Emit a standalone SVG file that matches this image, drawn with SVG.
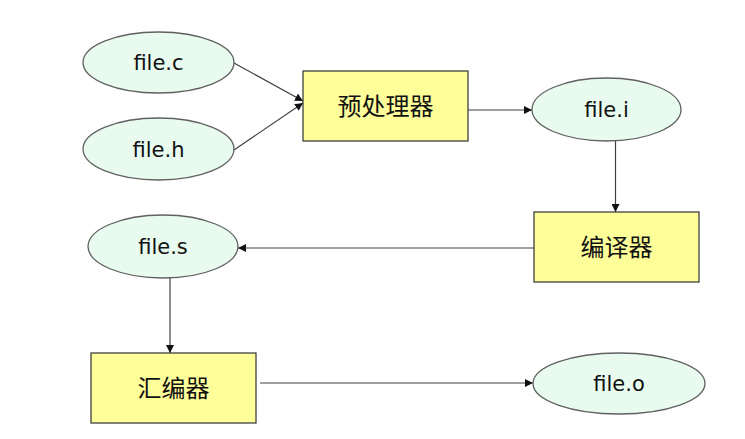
<svg xmlns="http://www.w3.org/2000/svg" width="745" height="439" viewBox="0 0 745 439">
<style>
.file{fill:#E8FBEE;stroke:#606060;stroke-width:1.3}
.proc{fill:#FFFF99;stroke:#404040;stroke-width:1.3}
.t{font-family:"DejaVu Sans","Noto Sans CJK SC",sans-serif;font-size:21px;fill:#111;text-anchor:middle}
.c{font-family:"Noto Sans CJK SC",sans-serif;font-size:24px;fill:#111;text-anchor:middle}
.edge{stroke:#404040;stroke-width:1.2;fill:none;marker-end:url(#ah)}
</style>
<defs>
<marker id="ah" viewBox="0 0 10 10" refX="10" refY="5" markerWidth="8" markerHeight="8" markerUnits="userSpaceOnUse" orient="auto">
<path d="M0,0 L10,5 L0,10 z" fill="#111"/>
</marker>
</defs>
<rect width="745" height="439" fill="#fff"/>
<g id="connectors">
<line class="edge" x1="234" y1="63" x2="303" y2="101"/>
<line class="edge" x1="234" y1="150" x2="303" y2="103"/>
<line class="edge" x1="468" y1="110" x2="532" y2="110"/>
<line class="edge" x1="615.5" y1="141" x2="615.5" y2="212"/>
<line class="edge" x1="534" y1="248" x2="238" y2="248"/>
<line class="edge" x1="170" y1="278" x2="170" y2="353"/>
<line class="edge" x1="260" y1="383" x2="533" y2="383"/>
</g>
<g id="file_c"><ellipse class="file" cx="158.5" cy="62.5" rx="75.5" ry="30.5"/><text class="t" x="158.5" y="70">file.c</text></g>
<g id="file_h"><ellipse class="file" cx="158.5" cy="149" rx="75.5" ry="31"/><text class="t" x="158.5" y="157">file.h</text></g>
<g id="preprocessor"><rect class="proc" x="303" y="71" width="165" height="70"/><text class="c" x="385.5" y="115">预处理器</text></g>
<g id="file_i"><ellipse class="file" cx="606.5" cy="109.5" rx="74.5" ry="31.5"/><text class="t" x="606.5" y="117">file.i</text></g>
<g id="compiler"><rect class="proc" x="534" y="212" width="165" height="70"/><text class="c" x="616.5" y="256">编译器</text></g>
<g id="file_s"><ellipse class="file" cx="163" cy="246.5" rx="75" ry="31.5"/><text class="t" x="163" y="254">file.s</text></g>
<g id="assembler"><rect class="proc" x="91" y="353" width="165" height="70"/><text class="c" x="173.5" y="397">汇编器</text></g>
<g id="file_o"><ellipse class="file" cx="619" cy="383.5" rx="86" ry="30.5"/><text class="t" x="619" y="391">file.o</text></g>
</svg>
